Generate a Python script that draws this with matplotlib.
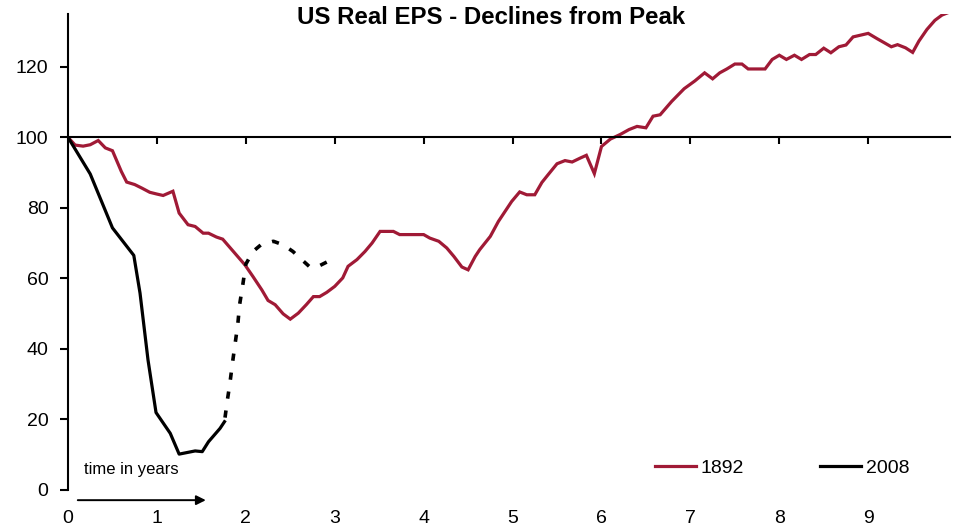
import numpy as np
import matplotlib
matplotlib.use("Agg")
import matplotlib.pyplot as plt

plt.rcParams['font.family'] = ['Liberation Sans', 'DejaVu Sans']

# 1892 episode, real EPS indexed to peak = 100 (years after peak)
t_1892 = [0, 0.08, 0.17, 0.25, 0.34, 0.42, 0.50, 0.60, 0.66, 0.75, 0.83, 0.92,
          1.00, 1.07, 1.18, 1.25, 1.35, 1.43, 1.52, 1.58, 1.67, 1.74, 1.86, 1.99,
          2.08, 2.18, 2.25, 2.33, 2.42, 2.50, 2.59, 2.68, 2.76, 2.83, 2.91, 3.00,
          3.09, 3.15, 3.25, 3.34, 3.42, 3.51, 3.66, 3.73, 4.00, 4.07, 4.17, 4.26,
          4.34, 4.43, 4.50, 4.58, 4.63, 4.75, 4.84, 4.99, 5.08, 5.16, 5.25, 5.33,
          5.40, 5.50, 5.59, 5.67, 5.76, 5.83, 5.92, 6.00, 6.10, 6.21, 6.31, 6.40,
          6.50, 6.58, 6.66, 6.79, 6.93, 7.05, 7.16, 7.25, 7.33, 7.41, 7.50, 7.58,
          7.65, 7.84, 7.92, 8.00, 8.08, 8.17, 8.25, 8.34, 8.41, 8.50, 8.58, 8.67,
          8.75, 8.83, 9.00, 9.10, 9.17, 9.26, 9.33, 9.42, 9.50, 9.57, 9.66, 9.75,
          9.83, 9.90]
v_1892 = [100, 97.8, 97.5, 97.9, 99.1, 97.0, 96.2, 90.3, 87.3, 86.6, 85.6, 84.4,
          83.9, 83.5, 84.7, 78.5, 75.2, 74.7, 72.8, 72.8, 71.7, 71.1, 67.6, 63.8,
          60.5, 56.7, 53.7, 52.5, 49.9, 48.4, 50.1, 52.5, 54.8, 54.8, 56.0, 57.7,
          60.1, 63.4, 65.3, 67.6, 70.0, 73.3, 73.3, 72.4, 72.4, 71.4, 70.5, 68.6,
          66.2, 63.2, 62.4, 66.2, 68.1, 71.9, 76.1, 81.8, 84.5, 83.7, 83.7, 87.2,
          89.4, 92.5, 93.4, 93.0, 94.1, 94.9, 89.7, 97.4, 99.5, 100.8, 102.2, 103.1,
          102.7, 106.0, 106.4, 110.2, 113.8, 116.0, 118.3, 116.6, 118.3, 119.4, 120.8, 120.8,
          119.4, 119.4, 122.1, 123.3, 122.1, 123.3, 122.1, 123.5, 123.5, 125.3, 124.0, 125.7,
          126.2, 128.5, 129.5, 128.0, 127.0, 125.7, 126.3, 125.4, 124.1, 127.3, 130.6, 133.2,
          134.7, 135.4]

# 2008 episode, actual
t_2008 = [0, 0.25, 0.50, 0.74, 0.81, 0.90, 0.99, 1.15, 1.25, 1.43, 1.51, 1.58,
          1.71, 1.76]
v_2008 = [100, 89.6, 74.3, 66.5, 55.8, 36.8, 21.9, 16.0, 10.1, 11.0, 10.8, 13.6,
          17.4, 19.3]

# 2008 episode, projected (dotted)
t_2008_fc = [1.76, 1.79, 1.82, 1.85, 1.88, 1.91, 1.93, 1.965, 2.00, 2.08, 2.17,
             2.31, 2.42, 2.53, 2.62, 2.72, 2.80, 2.91]
v_2008_fc = [19.3, 25.0, 30.0, 36.0, 41.5, 47.0, 52.5, 58.0, 64.0, 67.6, 69.5,
             70.5, 69.5, 67.6, 65.5, 63.2, 63.2, 64.6]

y_ticks = [0, 20, 40, 60, 80, 100, 120]
x_ticks = [0, 1, 2, 3, 4, 5, 6, 7, 8, 9]

red = '#A01A36'

fig = plt.figure(figsize=(9.56, 5.31), dpi=100)
ax = fig.add_axes([68 / 956, 41.3 / 531, 882 / 956, 475.7 / 531])
ax.set_xlim(0, 9.92)
ax.set_ylim(0, 135)

ax.plot(t_1892, v_1892, color=red, lw=2.3, label='1892', solid_joinstyle='miter')
ax.plot(t_2008, v_2008, color='black', lw=2.3, label='2008')

# dashes: phase chosen so the pattern finishes on a dash, like the original
fc_lw = 2.6
dash_on, dash_off = 2.0, 3.3
pts = ax.transData.transform(np.column_stack([t_2008_fc, v_2008_fc]))
path_len = np.sum(np.hypot(*np.diff(pts, axis=0).T)) * 72 / fig.dpi / fc_lw
offset = (dash_on - path_len) % (dash_on + dash_off)
ax.plot(t_2008_fc, v_2008_fc, color='black', lw=fc_lw,
        linestyle=(offset, (dash_on, dash_off)))

for s in ['top', 'right']:
    ax.spines[s].set_visible(False)
ax.spines['bottom'].set_position(('data', 100))
ax.spines['bottom'].set_linewidth(1.5)
ax.spines['left'].set_linewidth(1.5)

ax.set_yticks(y_ticks)
ax.tick_params(axis='y', direction='out', length=6, width=1.5, labelsize=14, pad=8,
               colors='black')
ax.set_xticks(x_ticks[1:])
ax.tick_params(axis='x', direction='out', length=5, width=1.5, labelbottom=False)

# year labels sit at the bottom, away from the 100 line
sec = ax.secondary_xaxis(-0.042)
sec.set_xticks(x_ticks)
sec.spines['bottom'].set_visible(False)
sec.tick_params(axis='x', length=0, pad=0, labelsize=14)

ax.annotate('', xy=(1.55, -0.022), xytext=(0.11, -0.022),
            xycoords=ax.get_xaxis_transform(), annotation_clip=False,
            arrowprops=dict(arrowstyle='-|>', color='black', lw=1.4,
                            mutation_scale=14, shrinkA=0, shrinkB=0))
ax.text(0.18, 5.6, 'time in years', fontsize=12, va='center', ha='left')

ax.legend(loc='center left', bbox_to_anchor=((655 - 68) / 882, (489.7 - 468) / 475.7),
          ncol=2, frameon=False, fontsize=14, handlelength=2.1, handletextpad=0.25,
          columnspacing=3.9, borderpad=0, borderaxespad=0)

fig.text(491 / 956, 1 - 18 / 531, 'US Real EPS - Declines from Peak',
         ha='center', va='center', fontsize=17.3, fontweight='bold')

fig.savefig('out.png', dpi=100)
